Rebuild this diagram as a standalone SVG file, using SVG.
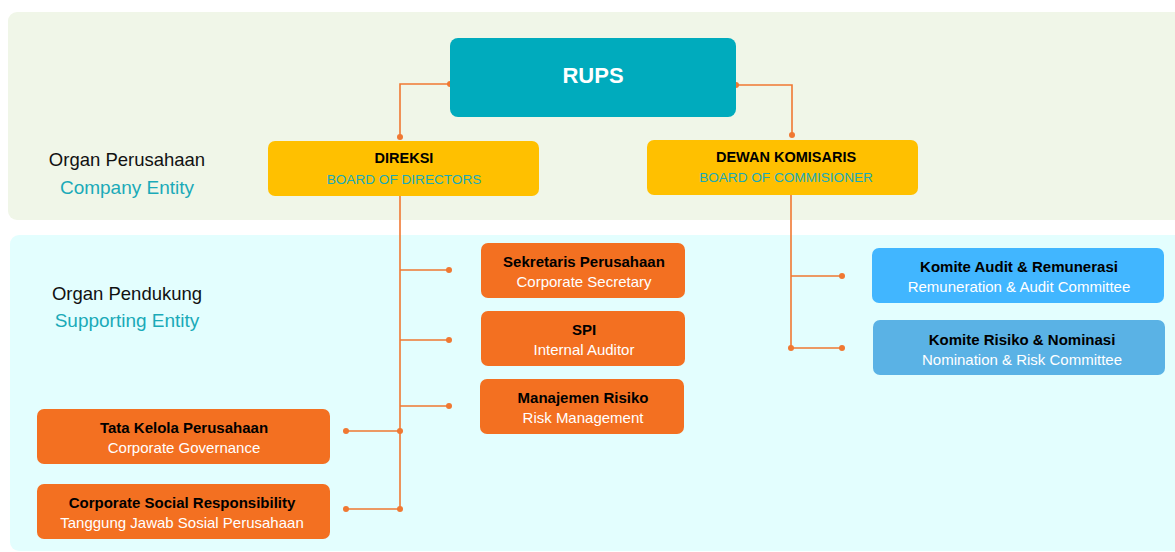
<svg xmlns="http://www.w3.org/2000/svg" width="1175" height="552" viewBox="0 0 1175 552">
<style>
text{font-family:"Liberation Sans",Arial,sans-serif;text-anchor:middle}
.t{font-weight:bold;font-size:15px;fill:#000}
.ty{font-weight:bold;font-size:14.5px;fill:#000}
.s{font-size:15px;fill:#fff}
.sy{font-size:13.6px;fill:#1aaab8}
.lab{font-size:18.5px;fill:#111}
.labc{font-size:19px;fill:#1aaab8}
.org{fill:#f37021}
.yel{fill:#ffc000}
.ln{stroke:#f07832;stroke-width:1.6;fill:none}
.dot{fill:#f07832}
</style>
<rect x="8" y="12" width="1180" height="208" rx="9" fill="#f0f6e8"/>
<rect x="10" y="235" width="1180" height="316" rx="9" fill="#e3fefe"/>
<g id="label-company"><text class="lab" x="127" y="166">Organ Perusahaan</text><text class="labc" x="127" y="194">Company Entity</text></g>
<g id="label-supporting"><text class="lab" x="127" y="300">Organ Pendukung</text><text class="labc" x="127" y="327">Supporting Entity</text></g>
<g id="connectors">
<path class="ln" d="M450 84H400V137"/>
<path class="ln" d="M736 85H792V135"/>
<path class="ln" d="M400 196V509"/>
<path class="ln" d="M400 270H449M400 340H449M400 406H449M400 431H346M400 509H346"/>
<path class="ln" d="M791 195V348M791 276H842M791 348H842"/>
<circle class="dot" cx="450" cy="84" r="3"/><circle class="dot" cx="400" cy="137" r="3"/>
<circle class="dot" cx="736" cy="85" r="3"/><circle class="dot" cx="792" cy="135" r="3"/>
<circle class="dot" cx="449" cy="270" r="3"/><circle class="dot" cx="449" cy="340" r="3"/><circle class="dot" cx="449" cy="406" r="3"/>
<circle class="dot" cx="400" cy="431" r="3"/><circle class="dot" cx="346" cy="431" r="3"/>
<circle class="dot" cx="400" cy="509" r="3"/><circle class="dot" cx="346" cy="509" r="3"/>
<circle class="dot" cx="842" cy="276" r="3"/><circle class="dot" cx="791" cy="348" r="3"/><circle class="dot" cx="842" cy="348" r="3"/>
</g>
<g id="rups"><rect x="450" y="38" width="286" height="79" rx="8" fill="#00abbd"/><text x="593" y="83" style="font-weight:bold;font-size:22px;fill:#fff">RUPS</text></g>
<g id="direksi"><rect class="yel" x="268" y="141" width="271" height="55" rx="7"/><text class="ty" x="404" y="163">DIREKSI</text><text class="sy" x="404" y="184">BOARD OF DIRECTORS</text></g>
<g id="komisaris"><rect class="yel" x="647" y="140" width="271" height="55" rx="7"/><text class="ty" x="786" y="162">DEWAN KOMISARIS</text><text class="sy" x="786" y="182">BOARD OF COMMISIONER</text></g>
<g id="sekretaris"><rect class="org" x="481" y="243" width="204" height="55" rx="7"/><text class="t" x="584" y="267">Sekretaris Perusahaan</text><text class="s" x="584" y="287">Corporate Secretary</text></g>
<g id="spi"><rect class="org" x="481" y="311" width="204" height="55" rx="7"/><text class="t" x="584" y="335">SPI</text><text class="s" x="584" y="355">Internal Auditor</text></g>
<g id="risiko"><rect class="org" x="480" y="379" width="204" height="55" rx="7"/><text class="t" x="583" y="403">Manajemen Risiko</text><text class="s" x="583" y="423">Risk Management</text></g>
<g id="tatakelola"><rect class="org" x="37" y="409" width="293" height="55" rx="7"/><text class="t" x="184" y="433">Tata Kelola Perusahaan</text><text class="s" x="184" y="453">Corporate Governance</text></g>
<g id="csr"><rect class="org" x="37" y="484" width="293" height="55" rx="7"/><text class="t" x="182" y="508">Corporate Social Responsibility</text><text class="s" x="182" y="528">Tanggung Jawab Sosial Perusahaan</text></g>
<g id="komite-audit"><rect x="872" y="248" width="292" height="55" rx="7" fill="#41b6ff"/><text class="t" x="1019" y="272">Komite Audit &amp; Remunerasi</text><text class="s" x="1019" y="292">Remuneration &amp; Audit Committee</text></g>
<g id="komite-risiko"><rect x="873" y="320" width="292" height="55" rx="7" fill="#5ab2e5"/><text class="t" x="1022" y="345">Komite Risiko &amp; Nominasi</text><text class="s" x="1022" y="365">Nomination &amp; Risk Committee</text></g>
</svg>
